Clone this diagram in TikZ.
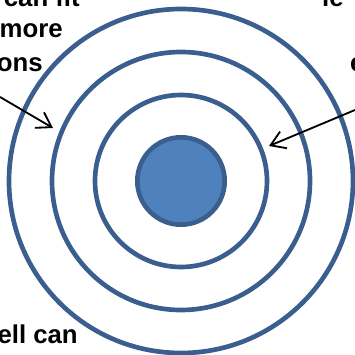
\documentclass[tikz,border=0pt]{standalone}
\usepackage{fontspec}
\setmainfont{Liberation Sans}
\usetikzlibrary{arrows.meta}
\definecolor{shellBlue}{HTML}{3A5F8F}
\definecolor{coreBlue}{HTML}{4F81BD}

\begin{document}
\begin{tikzpicture}[>={Straight Barb[length=4.2mm, width=5.4mm]},
  shell/.style={circle, draw=shellBlue, line width=0.14cm, inner sep=0pt},
  note/.style={font=\fontsize{22pt}{26pt}\selectfont\bfseries, inner sep=0pt},
  pointer/.style={->, line width=0.055cm, black}]
  \useasboundingbox (0,0) rectangle (10.65,10.62);
  \clip (0,0) rectangle (10.65,10.62);

  % shells round the core
  \coordinate (centre) at (5.43,5.19);
  \node[shell, minimum size=10.32cm] (outer) at (centre) {};
  \node[shell, minimum size=7.74cm] (middle) at (centre) {};
  \node[shell, minimum size=5.16cm] (inner) at (centre) {};
  \node[shell, fill=coreBlue, minimum size=2.62cm] (core) at (centre) {};

  % texts, cut by the frame
  \node[note, anchor=base east] (fitA) at (2.40,10.41) {can fit};
  \node[note, anchor=base east] (fitB) at (1.89,9.48) {more};
  \node[note, anchor=base east] (fitC) at (1.29,8.46) {ons};
  \node[note, anchor=base east] (shellcan) at (2.34,0.33) {ell can};
  \node[note, anchor=base west] (rightA) at (9.66,10.41) {le};
  \node[note, anchor=base west] (rightB) at (10.50,8.46) {e};

  % pointers
  \coordinate (lefttail) at (0,7.71);
  \coordinate (lefttip) at (1.59,6.78);
  \coordinate (righttail) at (10.65,7.32);
  \coordinate (righttip) at (8.07,6.24);
  \draw[pointer] (lefttail) -- (lefttip);
  \draw[pointer] (righttail) -- (righttip);
\end{tikzpicture}
\end{document}
